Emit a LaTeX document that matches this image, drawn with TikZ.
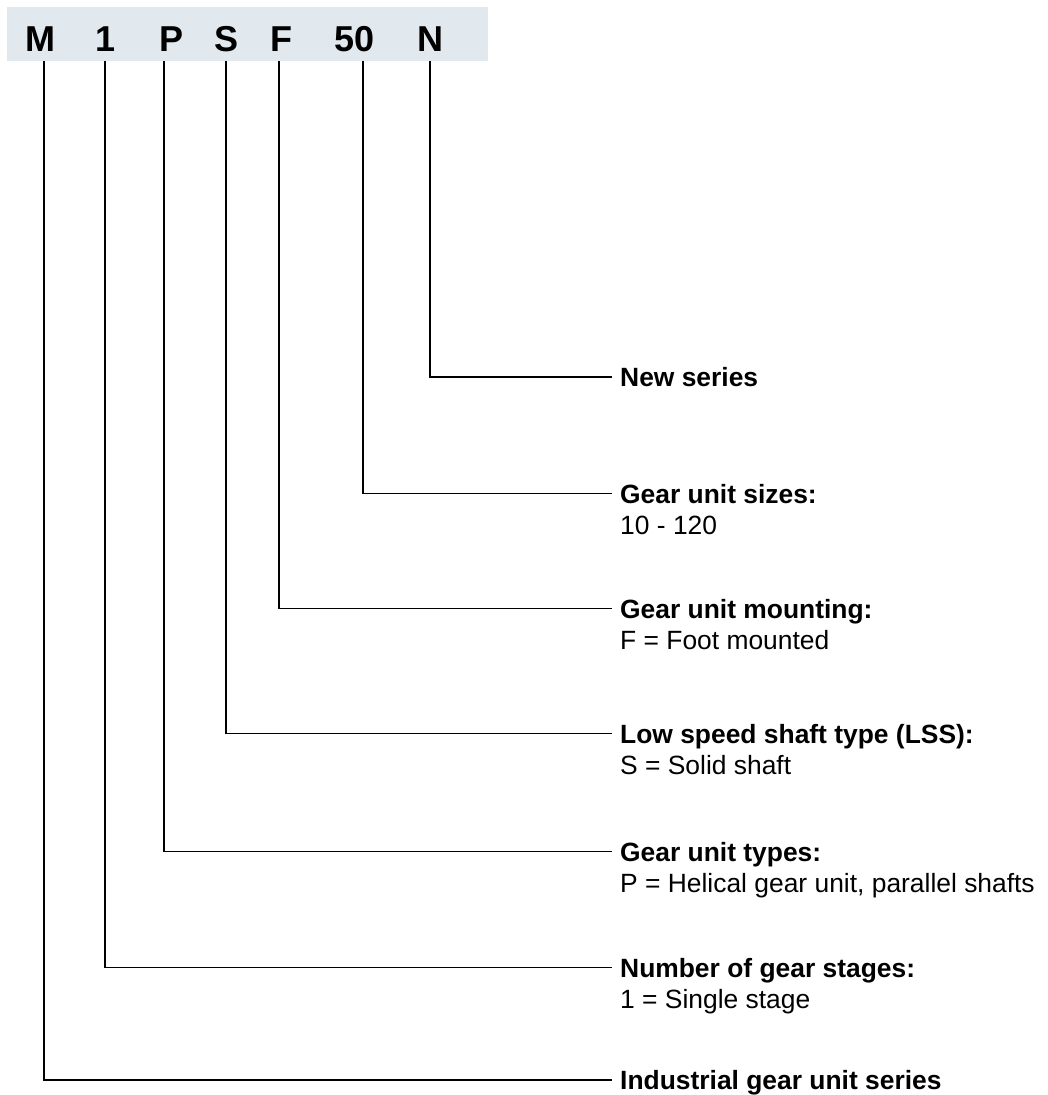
\documentclass[tikz,border=0pt]{standalone}
\usepackage{fontspec}
\setmainfont{Liberation Sans}
\definecolor{bandcol}{HTML}{E1E8EE}
\begin{document}
\begin{tikzpicture}[x=1pt,y=-1pt,
  code/.style={font=\fontsize{36}{40}\selectfont\bfseries, inner sep=0pt, anchor=base},
  ttl/.style={font=\fontsize{26.4}{30}\selectfont\bfseries, inner sep=0pt, anchor=base west},
  desc/.style={font=\fontsize{26.4}{30}\selectfont, inner sep=0pt, anchor=base west},
  conn/.style={line width=1.8pt, line join=miter}]
\useasboundingbox (0,0) rectangle (1048,1095);
\node[fill=bandcol, minimum width=481pt, minimum height=54pt, inner sep=0pt, anchor=north west] (band) at (7,7) {};
\node[code] (hM) at (40.5,51) {M};
\node[code] (h1) at (106,51) {1};
\node[code] (hP) at (172,51) {P};
\node[code] (hS) at (227,51) {S};
\node[code] (hF) at (281,51) {F};
\node[code] (h50) at (355,51) {50};
\node[code] (hN) at (430,51) {N};
% labels
\node[ttl] (tN) at (620,386.5) {New series};
\node[ttl] (t50) at (620,503) {Gear unit sizes:};
\node[desc] (d50) at (620,534) {10 - 120};
\node[ttl] (tF) at (620,618) {Gear unit mounting:};
\node[desc] (dF) at (620,649) {F = Foot mounted};
\node[ttl] (tS) at (620,743) {Low speed shaft type (LSS):};
\node[desc] (dS) at (620,774) {S = Solid shaft};
\node[ttl] (tP) at (620,861) {Gear unit types:};
\node[desc] (dP) at (620,892) {P = Helical gear unit, parallel shafts};
\node[ttl] (t1) at (620,977) {Number of gear stages:};
\node[desc] (d1) at (620,1008) {1 = Single stage};
\node[ttl] (tM) at (620,1089.5) {Industrial gear unit series};
% connectors
\draw[conn] ([xshift=3.5pt]hM.base |- band.south) |- ([xshift=-8pt,yshift=9.5pt]tM.base west);
\draw[conn] ([xshift=-1pt]h1.base |- band.south) |- ([xshift=-8pt,yshift=9.5pt]t1.base west);
\draw[conn] ([xshift=-8pt]hP.base |- band.south) |- ([xshift=-8pt,yshift=9.5pt]tP.base west);
\draw[conn] ([xshift=-1pt]hS.base |- band.south) |- ([xshift=-8pt,yshift=9.5pt]tS.base west);
\draw[conn] ([xshift=-2pt]hF.base |- band.south) |- ([xshift=-8pt,yshift=9.5pt]tF.base west);
\draw[conn] ([xshift=8pt]h50.base |- band.south) |- ([xshift=-8pt,yshift=9.5pt]t50.base west);
\draw[conn] (hN.base |- band.south) |- ([xshift=-8pt,yshift=9.5pt]tN.base west);
\end{tikzpicture}
\end{document}
